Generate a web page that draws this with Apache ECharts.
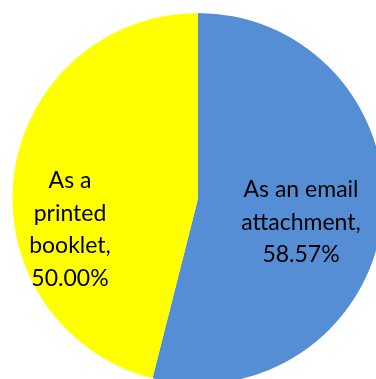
<!DOCTYPE html>
<html>
<head>
<meta charset="utf-8">
<script src="https://cdn.jsdelivr.net/npm/echarts@6/dist/echarts.min.js"></script>
<style>
  html, body { margin: 0; padding: 0; background: #ffffff; }
  #chart { width: 376px; height: 379px; }
</style>
</head>
<body>
<div id="chart"></div>
<script>
// Delivery preference shares
const categories = ['As an email attachment', 'As a printed booklet'];
const values = [58.57, 50.00];
const sliceColors = ['#558ED5', '#FFFF00'];
// Labels are nudged from the slice midpoints
const labelOffsets = [[8, 12], [-33, 43]];
const labelLines = [
  ['As an email', 'attachment,'],
  ['As a', 'printed', 'booklet,']
];

const chart = echarts.init(document.getElementById('chart'), null, { renderer: 'canvas' });

const data = categories.map((name, i) => ({
  name: name,
  value: values[i],
  itemStyle: { color: sliceColors[i] },
  label: {
    offset: labelOffsets[i],
    formatter: labelLines[i].join('\n') + '\n' + values[i].toFixed(2) + '%'
  }
}));

chart.setOption({
  animation: false,
  series: [{
    type: 'pie',
    center: [198, 198.5],
    radius: [0, 185.5],
    startAngle: 90,
    clockwise: true,
    avoidLabelOverlap: false,
    data: data,
    itemStyle: { borderWidth: 0 },
    label: {
      show: true,
      position: 'inside',
      color: '#000000',
      fontFamily: 'Lato',
      fontSize: 23,
      lineHeight: 32.5,
      align: 'center'
    },
    labelLine: { show: false },
    emphasis: { disabled: true }
  }]
});
</script>
</body>
</html>
